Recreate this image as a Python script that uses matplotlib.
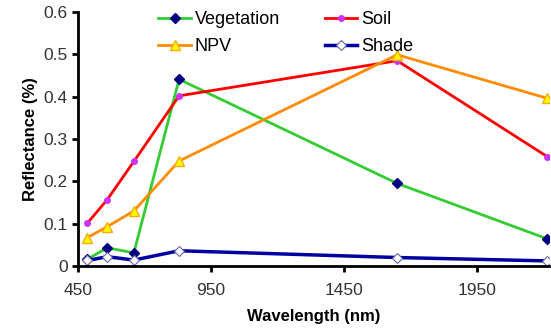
import matplotlib
matplotlib.use("Agg")
import matplotlib.pyplot as plt

plt.rcParams['font.family'] = ['Liberation Sans', 'DejaVu Sans']

# Landsat TM band centres (nm)
wavelength = [485, 560, 660, 830, 1650, 2215]

# reflectance of each endmember
vegetation = [0.016, 0.043, 0.031, 0.441, 0.195, 0.064]
soil = [0.101, 0.157, 0.247, 0.402, 0.485, 0.258]
npv = [0.067, 0.093, 0.130, 0.248, 0.499, 0.396]
shade = [0.013, 0.022, 0.014, 0.036, 0.020, 0.012]

fig = plt.figure(figsize=(5.51, 3.29), dpi=100)
ax = fig.add_axes([0.1416, 0.1915, 0.8544, 0.772])

l_veg, = ax.plot(wavelength, vegetation, color='#33cc33', lw=2, marker='D', ms=5,
                 mfc='#000080', mec='#000080', label='Vegetation')
l_soil, = ax.plot(wavelength, soil, color='#ff0000', lw=2, marker='o', ms=4,
                  mfc='#cc33ff', mec='#cc33ff', label='Soil')
l_npv, = ax.plot(wavelength, npv, color='#ff8c00', lw=2, marker='^', ms=7,
                 mfc='#ffff00', mec='#ffaa00', label='NPV')
l_shade, = ax.plot(wavelength, shade, color='#0000a0', lw=2.5, marker='D', ms=5,
                   mfc='white', mec='#6666aa', mew=0.8, label='Shade')

ax.set_xlim(450, 2220)
ax.set_ylim(0, 0.6)
ax.set_xticks([450, 950, 1450, 1950])
ax.set_yticks([0, 0.1, 0.2, 0.3, 0.4, 0.5, 0.6])
ax.set_yticklabels(['0', '0.1', '0.2', '0.3', '0.4', '0.5', '0.6'])

for s in ['top', 'right']:
    ax.spines[s].set_visible(False)
for s in ['left', 'bottom']:
    ax.spines[s].set_linewidth(2)
ax.tick_params(direction='out', width=2, length=4, labelsize=12.5, colors='black',
               labelcolor='#333333')
ax.tick_params(axis='x', pad=8)

ax.set_xlabel('Wavelength (nm)', fontsize=12, fontweight='bold', labelpad=8)
ax.set_ylabel('Reflectance (%)', fontsize=12, fontweight='bold', labelpad=4)

# row-wise legend: Vegetation, Soil / NPV, Shade
ax.legend([l_veg, l_npv, l_soil, l_shade], ['Vegetation', 'NPV', 'Soil', 'Shade'],
          ncol=2, loc='upper left', bbox_to_anchor=(0.14, 1.06), frameon=False,
          fontsize=13, handlelength=1.8, handletextpad=0.2, columnspacing=2.5,
          labelspacing=0.55, borderpad=0.3)

fig.savefig('out.png', dpi=100)
